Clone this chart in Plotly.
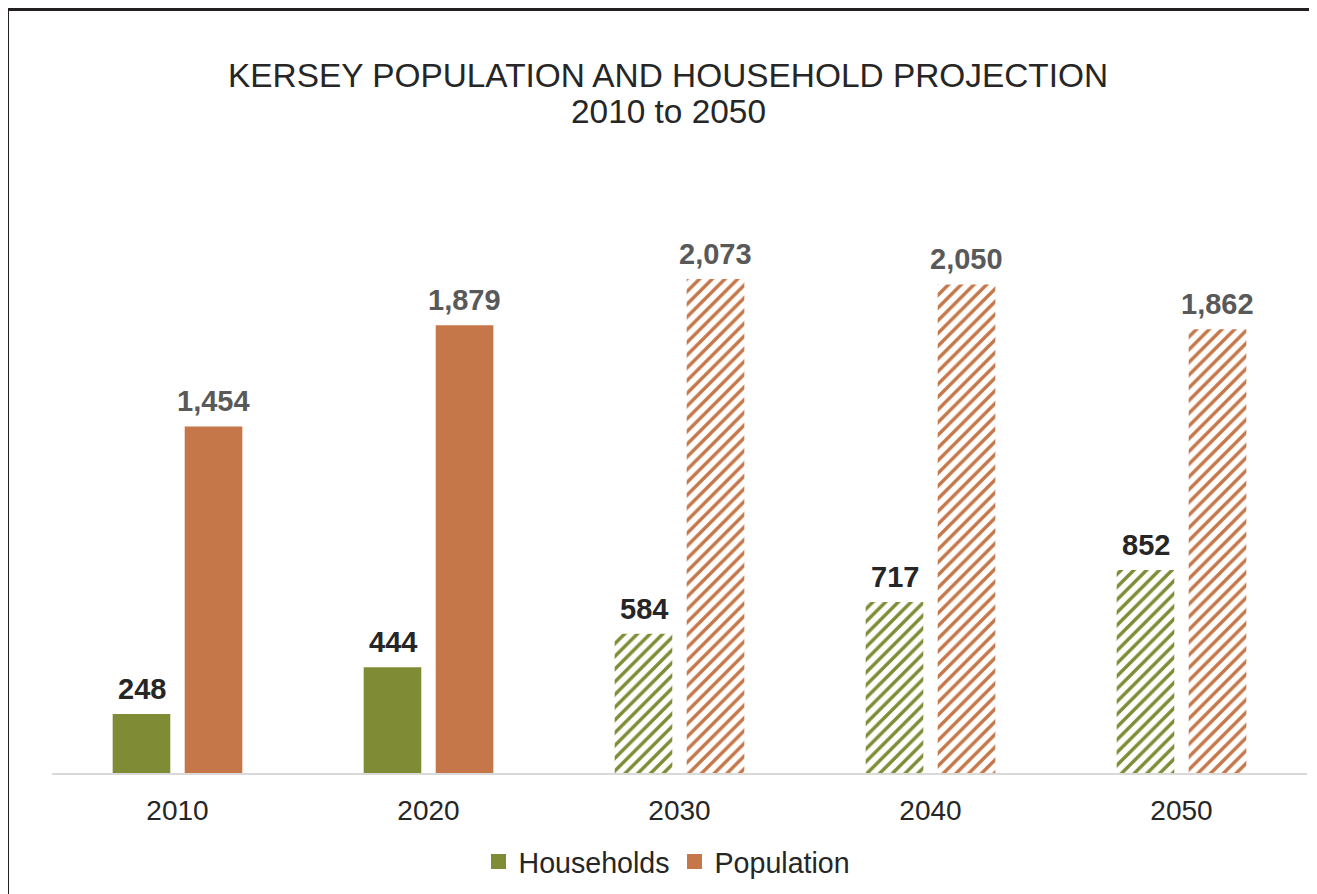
import plotly.graph_objects as go

years = ["2010", "2020", "2030", "2040", "2050"]
households = [248, 444, 584, 717, 852]
population = [1454, 1879, 2073, 2050, 1862]
patterns = ["", "", "/", "/", "/"]

GREEN = "#7f8c35"
ORANGE = "#c5774a"
FONT = "Liberation Sans, Arial"

fig = go.Figure()
fig.add_trace(go.Bar(
    x=years, y=households, name="Households", showlegend=False,
    marker=dict(color=GREEN, line=dict(width=0),
                pattern=dict(shape=patterns, fgcolor=GREEN, bgcolor="white",
                             size=9, solidity=0.38, fillmode="replace")),
))
fig.add_trace(go.Bar(
    x=years, y=population, name="Population", showlegend=False,
    marker=dict(color=ORANGE, line=dict(width=0),
                pattern=dict(shape=patterns, fgcolor=ORANGE, bgcolor="white",
                             size=9, solidity=0.38, fillmode="replace")),
))
# legend entries with larger square swatches
for name, col in [("Households", GREEN), ("Population", ORANGE)]:
    fig.add_trace(go.Scatter(x=[years[0]], y=[None], mode="markers", name=name,
                             marker=dict(symbol="square", size=15, color=col),
                             hoverinfo="skip"))

annotations = []
for i, (h, p) in enumerate(zip(households, population)):
    annotations.append(dict(x=i, y=h, xref="x", yref="y", text=f"<b>{h:,}</b>",
                            showarrow=False, xshift=-36, yshift=7, yanchor="bottom",
                            font=dict(family=FONT, size=29, color="#262626")))
    annotations.append(dict(x=i, y=p, xref="x", yref="y", text=f"<b>{p:,}</b>",
                            showarrow=False, xshift=36, yshift=7, yanchor="bottom",
                            font=dict(family=FONT, size=29, color="#595959")))

# page offset (body margin) of 8px
OFF = 8
W, H = 1317 - OFF, 894 - OFF
PLOT_L, PLOT_R, PLOT_T, PLOT_B = 52, 1307, 201, 773  # screen px
L = PLOT_L - OFF
R = W - (PLOT_R - OFF)
T = PLOT_T - OFF
B = H - (PLOT_B - OFF)
pw, ph = W - L - R, H - T - B

def sx(px):
    return (px - PLOT_L) / pw

def sy(py):
    return (PLOT_B - py) / ph

annotations.append(dict(x=sx(668), y=sy(75), xref="paper", yref="paper",
                        text="KERSEY POPULATION AND HOUSEHOLD PROJECTION", showarrow=False,
                        yanchor="middle", xanchor="center",
                        font=dict(family=FONT, size=33.4, color="#262626")))
annotations.append(dict(x=sx(668), y=sy(112), xref="paper", yref="paper",
                        text="2010 to 2050", showarrow=False,
                        yanchor="middle", xanchor="center",
                        font=dict(family=FONT, size=33.4, color="#262626")))

shapes = [dict(type="rect", xref="paper", yref="paper",
               x0=sx(7.5), y0=sy(9.5), x1=sx(1340), y1=sy(920),
               line=dict(color="#231f20", width=3), fillcolor="rgba(0,0,0,0)")]

fig.update_layout(
    width=W, height=H,
    margin=dict(l=L, r=R, t=T, b=B, autoexpand=False),
    paper_bgcolor="white", plot_bgcolor="white",
    barmode="group", bargap=0.426, bargroupgap=0.2,
    font=dict(family=FONT, color="#262626"),
    xaxis=dict(type="category", range=[-0.5, len(years) - 0.5], showline=True,
               linecolor="#d9d9d9", linewidth=1.5, ticks="", ticklabelstandoff=12,
               tickfont=dict(size=28, color="#262626"), showgrid=False),
    yaxis=dict(range=[0, 2400], visible=False, showgrid=False),
    legend=dict(orientation="h", x=sx(667), xanchor="center",
                y=sy(862), yanchor="middle", itemsizing="trace",
                font=dict(size=28.6, color="#262626")),
    annotations=annotations,
    shapes=shapes,
)

fig.write_html("out.html")
